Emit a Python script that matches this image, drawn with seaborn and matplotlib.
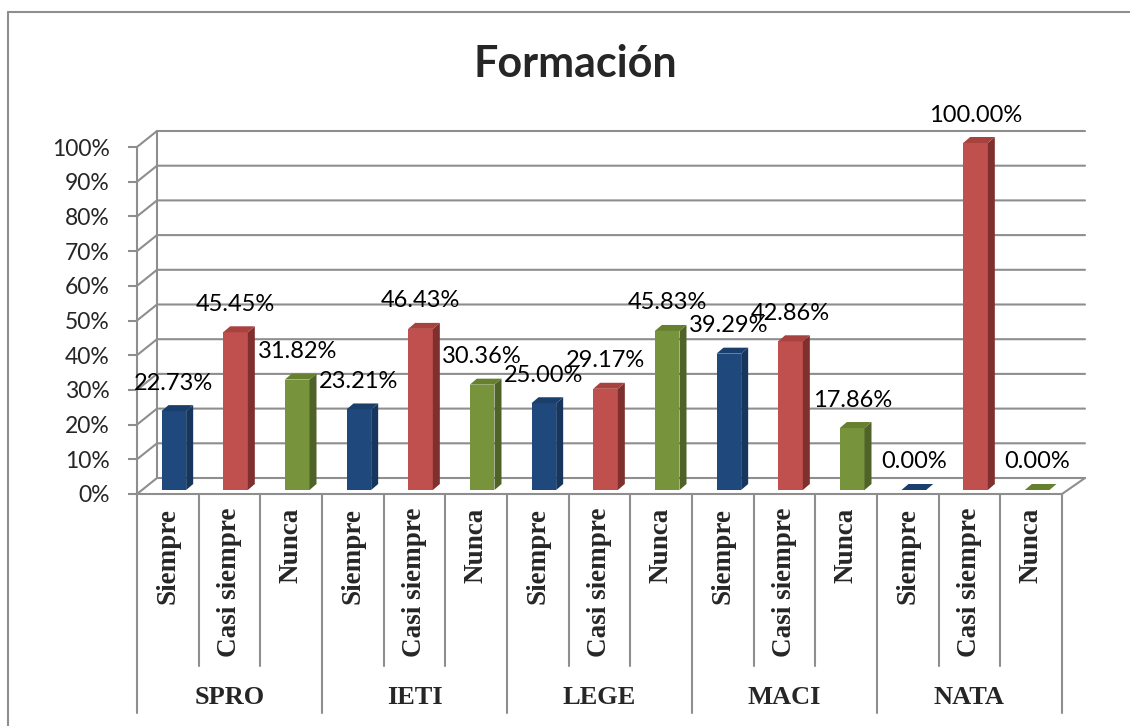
import matplotlib
matplotlib.use("Agg")
import matplotlib.pyplot as plt
from matplotlib.lines import Line2D
from matplotlib.patches import Polygon
import pandas as pd
import seaborn as sns

# data
grupos = ["SPRO", "IETI", "LEGE", "MACI", "NATA"]
respuestas = ["Siempre", "Casi siempre", "Nunca"]
siempre = [22.73, 23.21, 25.00, 39.29, 0.00]
casi_siempre = [45.45, 46.43, 29.17, 42.86, 100.00]
nunca = [31.82, 30.36, 45.83, 17.86, 0.00]
y_ticks = [0, 10, 20, 30, 40, 50, 60, 70, 80, 90, 100]

colores = {"Siempre": "#1F497D", "Casi siempre": "#C0504D", "Nunca": "#77933C"}
laterales = {"Siempre": "#17365D", "Casi siempre": "#7F302E", "Nunca": "#4F6228"}
techos = {"Siempre": "#1A3F6C", "Casi siempre": "#A8423F", "Nunca": "#66802F"}

rows = []
for g, a, b, c in zip(grupos, siempre, casi_siempre, nunca):
    for r, v in zip(respuestas, [a, b, c]):
        rows.append({"barra": f"{g} {r}", "grupo": g, "respuesta": r, "valor": v})
df = pd.DataFrame(rows)

sns.set_style("white")
plt.rcParams["font.family"] = ["Lato", "DejaVu Sans"]

W, H = 1130, 726
fig = plt.figure(figsize=(W / 100, H / 100), dpi=100)

# pixel geometry of the front plane
X0, X1 = 137, 1062
Y0, Y100 = 494, 147
n = len(df)
ax = fig.add_axes([X0 / W, (H - Y0) / H, (X1 - X0) / W, (Y0 - Y100) / H])
upx = n / (X1 - X0)      # x data units per pixel
ypx = 100 / (Y0 - Y100)  # y data units per pixel

sns.barplot(data=df, x="barra", y="valor", hue="respuesta", order=df["barra"].tolist(),
            hue_order=respuestas, palette=colores, dodge=False, width=0.4,
            saturation=1, legend=False, linewidth=0, ax=ax, zorder=3)
ax.set_xlim(-0.5, n - 0.5)
ax.set_ylim(0, 100)
ax.patch.set_alpha(0)

gris = "#8E8E8E"
# back wall / left wall gridlines
wx, wy = 20 * upx, 16 * ypx
for v in y_ticks:
    ax.plot([-0.5, -0.5 + wx, n - 0.5 + 23 * upx], [v, v + wy, v + wy],
            color=gris, lw=1.5, zorder=1, clip_on=False, solid_joinstyle="miter")
ax.plot([-0.5 + wx, -0.5 + wx], [wy, 100 + wy], color=gris, lw=1.5, zorder=1, clip_on=False)
ax.plot([n - 0.5, n - 0.5 + 23 * upx], [0, wy], color=gris, lw=1.5, zorder=1, clip_on=False)

# 3d look: shift front faces, add sides and tops
dx, dy = 7 * upx, 6 * ypx
for p in ax.patches:
    p.set_x(p.get_x() + 6 * upx)
    p.set_y(4 * ypx)
    p.set_clip_on(False)
for p, (_, row) in zip(sorted(ax.patches, key=lambda q: q.get_x()), df.iterrows()):
    x, w, y0, h = p.get_x(), p.get_width(), p.get_y(), p.get_height()
    r = row["respuesta"]
    ax.add_patch(Polygon([(x + w, y0), (x + w + dx, y0 + dy), (x + w + dx, y0 + h + dy), (x + w, y0 + h)],
                         closed=True, facecolor=laterales[r], lw=0, zorder=3, clip_on=False))
    ax.add_patch(Polygon([(x, y0 + h), (x + dx, y0 + h + dy), (x + w + dx, y0 + h + dy), (x + w, y0 + h)],
                         closed=True, facecolor=techos[r], lw=0, zorder=3, clip_on=False))
    ax.annotate(f"{row['valor']:.2f}%", (x + w / 2, row["valor"]), xytext=(0, 32),
                textcoords="offset pixels", ha="center", va="center", fontsize=17,
                color="black", zorder=5, annotation_clip=False)

# axes styling
for s in ["top", "right"]:
    ax.spines[s].set_visible(False)
for s in ["left", "bottom"]:
    ax.spines[s].set_color(gris)
    ax.spines[s].set_linewidth(1.5)
ax.set_yticks(y_ticks, [f"{v}%" for v in y_ticks])
ax.tick_params(axis="y", direction="out", length=6.5, width=1.5, color=gris,
               labelsize=16.5, pad=13, left=True)
ax.set_xticks(range(n), df["respuesta"].tolist(), rotation=90,
              fontfamily="Liberation Serif", fontweight="bold", fontsize=19.5)
ax.tick_params(axis="x", length=0, pad=10)
ax.set_xlabel("")
ax.set_ylabel("")

# category table below
for i in range(n + 1):
    fondo = 713 if i % 3 == 0 else 666
    ax.plot([i - 0.5, i - 0.5], [0, (Y0 - fondo) * ypx], color=gris, lw=1.5,
            clip_on=False, zorder=1)
for k, g in enumerate(grupos):
    ax.text(3 * k + 1, (Y0 - 698) * ypx, g, ha="center", va="center",
            fontfamily="Liberation Serif", fontweight="bold", fontsize=19)

# title and chart border
fig.text(575 / W, 1 - 64 / H, "Formación", ha="center", va="center",
         fontsize=31, fontweight="bold")
fig.add_artist(Line2D([8 / W, 1], [1 - 12 / H, 1 - 12 / H], color=gris, lw=1.5))
fig.add_artist(Line2D([8 / W, 8 / W], [0, 1 - 12 / H], color=gris, lw=1.5))

fig.savefig("out.png", dpi=100)
